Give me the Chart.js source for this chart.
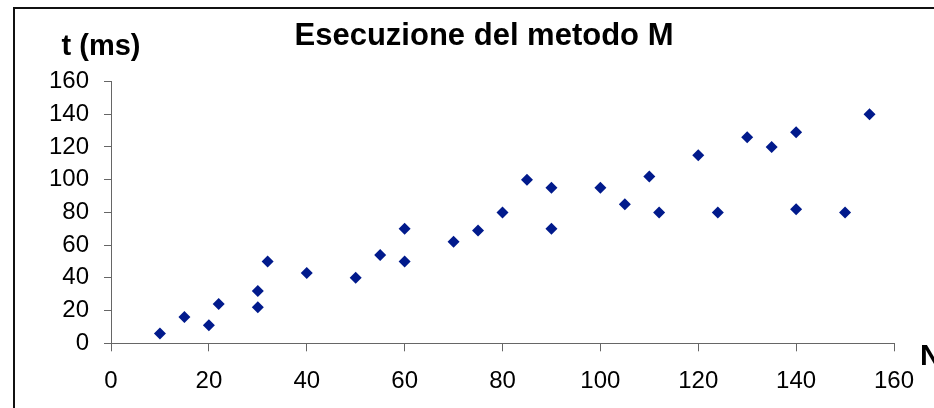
<!DOCTYPE html>
<html>
<head>
<meta charset="utf-8">
<title>Esecuzione del metodo M</title>
<script src="https://cdn.jsdelivr.net/npm/chart.js@4.4.1/dist/chart.umd.min.js"></script>
<style>
    html, body { margin: 0; padding: 0; background: #ffffff; }
    canvas { display: block; }
</style>
</head>
<body>
<canvas id="chart" width="934" height="408"></canvas>
<script>
// Dati: N e tempo in ms
const nValues = [10, 15, 20, 22, 30, 30, 32, 40, 50, 55, 60, 60, 70, 75, 80,
                 85, 90, 90, 100, 105, 110, 112, 120, 124, 130, 135, 140, 140, 150, 155];
const tValues = [6, 16, 11, 24, 32, 22, 50, 43, 40, 54, 70, 50, 62, 69, 80,
                 100, 95, 70, 95, 85, 102, 80, 115, 80, 126, 120, 129, 82, 80, 140];
const xTicks = [0, 20, 40, 60, 80, 100, 120, 140, 160];
const yTicks = [0, 20, 40, 60, 80, 100, 120, 140, 160];

const chartTitle = 'Esecuzione del metodo M';
const yTitle = 't (ms)';
const xTitle = 'N';

const fontFamily = '"Liberation Sans", Arial, Helvetica, sans-serif';
const axisColor = '#666666';

const points = nValues.map((n, i) => ({ x: n, y: tValues[i] }));

// Title, axis labels and the frame line, drawn on top of the chart
const labelsPlugin = {
    id: 'labels',
    afterDraw(chart) {
        const ctx = chart.ctx;
        ctx.save();
        ctx.fillStyle = '#111111';
        ctx.fillRect(13, 7, 2, 401);
        ctx.fillRect(13, 7, 921, 2);

        ctx.fillStyle = '#000000';
        ctx.textBaseline = 'alphabetic';
        ctx.textAlign = 'center';
        ctx.font = 'bold 31px ' + fontFamily;
        ctx.fillText(chartTitle, 484, 45);

        ctx.font = 'bold 29px ' + fontFamily;
        ctx.fillText(yTitle, 101, 55);

        ctx.textAlign = 'left';
        ctx.font = 'bold 30px ' + fontFamily;
        ctx.fillText(xTitle, 920, 365);
        ctx.restore();
    }
};

new Chart(document.getElementById('chart'), {
    type: 'scatter',
    data: {
        datasets: [{
            data: points,
            pointStyle: 'rectRot',
            pointRadius: 6,
            pointBorderWidth: 0,
            backgroundColor: '#011a8c',
            borderColor: '#011a8c'
        }]
    },
    options: {
        responsive: false,
        animation: false,
        layout: {
            padding: { top: 81.5, right: 40, bottom: 0, left: 0 }
        },
        plugins: {
            legend: { display: false },
            tooltip: { enabled: false }
        },
        scales: {
            x: {
                type: 'linear',
                min: 0,
                max: 160,
                afterBuildTicks: (scale) => { scale.ticks = xTicks.map(v => ({ value: v })); },
                afterFit: (scale) => { scale.height = 64.7; },
                grid: {
                    drawOnChartArea: false,
                    drawTicks: true,
                    tickLength: 8,
                    color: axisColor
                },
                border: { color: axisColor, width: 1 },
                ticks: {
                    color: '#000000',
                    padding: 16,
                    maxRotation: 0,
                    font: { family: fontFamily, size: 24 }
                }
            },
            y: {
                min: 0,
                max: 160,
                afterBuildTicks: (scale) => { scale.ticks = yTicks.map(v => ({ value: v })); },
                afterFit: (scale) => { scale.width = 111; },
                grid: {
                    drawOnChartArea: false,
                    drawTicks: true,
                    tickLength: 7,
                    color: axisColor
                },
                border: { color: axisColor, width: 1 },
                ticks: {
                    color: '#000000',
                    padding: 15,
                    font: { family: fontFamily, size: 24 }
                }
            }
        }
    },
    plugins: [labelsPlugin]
});
</script>
</body>
</html>
